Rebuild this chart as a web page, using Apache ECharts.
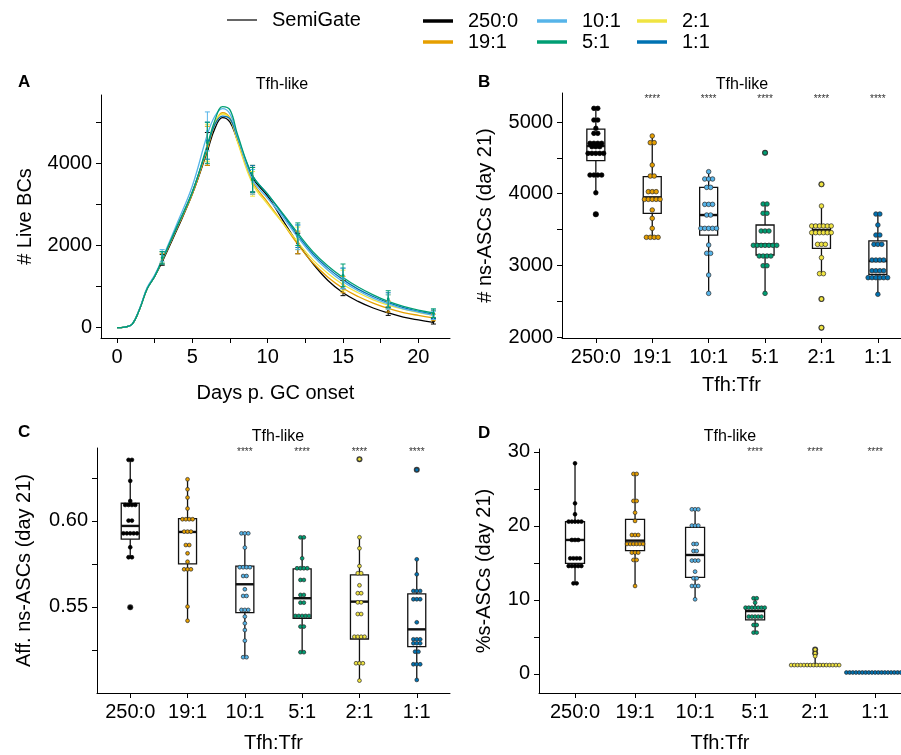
<!DOCTYPE html>
<html><head><meta charset="utf-8">
<script src="https://cdn.jsdelivr.net/npm/echarts@6/dist/echarts.min.js"></script>
<style>html,body{margin:0;padding:0;background:#fff}#c{width:901px;height:755px}</style>
</head><body><div id="c"></div>
<script>
// ---------- data ----------
const categories = ['250:0','19:1','10:1','5:1','2:1','1:1'];
const colors = ['#000000','#E69F00','#56B4E9','#009E73','#F0E442','#0072B2'];

// Panel A: # live BCs over time (SemiGate)
const days = [0,0.5,1,1.5,2,2.5,3,4,5,6,6.5,7,7.5,8,9,10,11,12,13,14,15,16,17,18,19,20,21];
const live250 = [0,15,80,450,950,1250,1600,2400,3250,4300,4850,5110,5000,4550,3650,3200,2620,2050,1560,1150,850,640,480,360,260,190,130];
const live19  = [0,15,80,450,950,1250,1630,2430,3250,4350,4950,5230,5100,4550,3550,3050,2550,2030,1580,1230,960,760,600,470,370,300,240];
const live10  = [0,15,85,470,980,1280,1680,2550,3450,4700,5150,5330,5200,4650,3600,3150,2700,2200,1750,1400,1120,900,720,580,460,380,300];
const live5   = [0,15,80,450,950,1250,1650,2480,3300,4450,5050,5380,5300,4700,3700,3250,2780,2300,1850,1500,1220,990,800,640,520,430,360];
const live2   = [0,15,80,450,950,1250,1650,2460,3300,4400,5000,5200,5080,4520,3500,3000,2550,2080,1650,1320,1050,850,680,550,450,370,310];
const live1   = [0,15,80,450,950,1250,1650,2460,3300,4400,4950,5150,5080,4620,3700,3250,2750,2250,1800,1450,1170,940,760,610,490,400,330];

const ebDays = [3,6,9,12,15,18,21];
const ebLo250 = [1520,3950,3300,1800,780,300,90];   const ebHi250 = [1780,4750,3900,2300,1150,500,220];
const ebLo19  = [1550,3950,3250,1800,850,380,170];  const ebHi19  = [1800,4900,3950,2350,1250,650,330];
const ebLo10  = [1600,4300,3250,1900,950,450,200];  const ebHi10  = [1900,5250,3850,2500,1450,800,400];
const ebLo5   = [1550,4000,3300,2000,1000,500,250]; const ebHi5   = [1850,5000,3900,2550,1550,900,460];
const ebLo2   = [1580,4050,3200,1900,900,450,200];  const ebHi2   = [1850,4950,3800,2450,1400,800,420];
const ebLo1   = [1550,4100,3300,1950,950,480,230];  const ebHi1   = [1850,5000,3950,2500,1450,850,430];

// Panel B: # ns-ASCs (day 21); box = [low whisker, Q1, median, Q3, high whisker]
const boxB = [
  [4013,4460,4665,4902,5191],[3391,3726,3949,4237,4805],[2609,3423,3702,4088,4307],
  [2609,3144,3293,3563,3856],[2884,3238,3493,3563,3828],[2596,2875,3060,3340,3716]];
const outB = [[3712],[],[],[4571],[4130,2530,2130],[]];
const ptsB250 = [5191,5191,5028,5028,4912,4842,4842,4703,4703,4703,4703,4656,4656,4656,4563,4563,4563,4563,4563,4260,4260,4260,4260,4013,3712];
const ptsB19  = [4805,4712,4712,4400,4246,4246,4028,4028,4028,3921,3921,3921,3921,3921,3772,3656,3516,3391,3391,3391,3391];
const ptsB10  = [4307,4205,4205,4205,4088,4088,3851,3851,3851,3702,3702,3516,3516,3516,3516,3516,3284,3168,3168,2865,2609];
const ptsB5   = [4571,3856,3856,3726,3726,3479,3479,3479,3279,3279,3279,3279,3279,3279,3279,3130,3130,3130,3130,2995,2995,2609];
const ptsB2   = [4130,3828,3549,3549,3549,3549,3549,3549,3456,3456,3456,3456,3456,3456,3293,3293,3293,3107,2884,2884,2530,2130];
const ptsB1   = [3716,3716,3563,3423,3423,3293,3293,3293,3074,3074,3074,3074,2925,2925,2925,2925,2828,2828,2828,2828,2828,2828,2596];
const sigB = ['','****','****','****','****','****'];

// Panel C: Aff. ns-ASCs (day 21)
const boxC = [
  [0.5789,0.5894,0.5971,0.6103,0.6355],[0.5420,0.5750,0.5936,0.6014,0.6242],[0.5208,0.5467,0.5632,0.5738,0.5928],
  [0.5237,0.5434,0.5551,0.5721,0.5905],[0.5072,0.5314,0.5531,0.5686,0.5905],[0.5076,0.5270,0.5370,0.5576,0.5777]];
const outC = [[0.5498],[],[],[],[0.6359],[0.6297]];
const ptsC250 = [0.6355,0.6355,0.6233,0.6116,0.6093,0.6093,0.6093,0.6093,0.6002,0.6002,0.5928,0.5928,0.5928,0.5928,0.5928,0.5847,0.5789,0.5789,0.5498];
const ptsC19  = [0.6242,0.6184,0.6136,0.6072,0.6010,0.6010,0.6010,0.6010,0.5938,0.5938,0.5938,0.5860,0.5860,0.5812,0.5763,0.5719,0.5719,0.5719,0.5502,0.5420];
const ptsC10  = [0.5928,0.5928,0.5928,0.5845,0.5731,0.5731,0.5731,0.5731,0.5680,0.5680,0.5603,0.5564,0.5564,0.5483,0.5483,0.5483,0.5444,0.5405,0.5366,0.5304,0.5208,0.5208];
const ptsC5   = [0.5905,0.5905,0.5783,0.5725,0.5725,0.5725,0.5725,0.5657,0.5657,0.5570,0.5570,0.5525,0.5525,0.5448,0.5448,0.5448,0.5448,0.5448,0.5386,0.5386,0.5237,0.5237];
const ptsC2   = [0.6359,0.5905,0.5841,0.5738,0.5696,0.5696,0.5626,0.5580,0.5580,0.5527,0.5527,0.5459,0.5459,0.5327,0.5327,0.5327,0.5327,0.5173,0.5173,0.5173,0.5072];
const ptsC1   = [0.6297,0.5777,0.5690,0.5593,0.5593,0.5593,0.5545,0.5545,0.5545,0.5411,0.5312,0.5312,0.5312,0.5289,0.5289,0.5289,0.5240,0.5240,0.5167,0.5167,0.5167,0.5076];
const sigC = ['','','****','****','****','****'];

// Panel D: %s-ASCs (day 21)
const boxD = [
  [12.25,14.95,18.11,20.59,28.47],[11.89,16.67,18.02,20.90,27.03],[10.09,13.06,16.08,19.82,22.25],
  [5.59,7.30,8.50,9.00,10.23],[1.10,1.15,1.20,1.28,2.40],[0.15,0.18,0.20,0.22,0.25]];
const outD = [[],[],[],[],[3.3,2.8],[]];
const ptsD250 = [28.47,23.06,21.58,20.59,20.59,20.59,20.59,20.59,18.11,18.11,18.11,15.63,15.63,15.63,15.63,14.59,14.59,14.59,14.59,14.59,12.25,12.25];
const ptsD19  = [27.03,27.03,23.38,23.38,21.80,20.68,18.78,18.78,18.78,17.57,17.57,17.57,17.57,17.57,17.57,16.40,16.40,16.40,15.41,15.41,11.89];
const ptsD10  = [22.25,22.25,22.25,20.05,20.05,20.05,17.57,17.57,16.62,16.62,15.32,15.32,15.32,13.83,12.93,12.93,11.89,11.89,11.89,10.09];
const ptsD5   = [10.23,10.23,9.64,8.96,8.96,8.96,8.96,8.96,8.96,8.96,7.75,7.75,7.75,7.75,7.75,6.62,6.62,5.59,5.59];
const ptsD2   = [3.3,2.8,2.4,1.2,1.2,1.2,1.2,1.2,1.2,1.2,1.2,1.2,1.2,1.2,1.2,1.2,1.2,1.2,1.2];
const ptsD1   = [0.2,0.2,0.2,0.2,0.2,0.2,0.2,0.2,0.2,0.2,0.2,0.2,0.2,0.2,0.2,0.2,0.2,0.2,0.2];
const sigD = ['','','','****','****','****'];

// ---------- helpers ----------
const FONT = '"Liberation Sans", Arial, Helvetica, sans-serif';
const liveSeries = [live250, live19, live10, live5, live2, live1];
const ebLo = [ebLo250, ebLo19, ebLo10, ebLo5, ebLo2, ebLo1];
const ebHi = [ebHi250, ebHi19, ebHi10, ebHi5, ebHi2, ebHi1];

function swarm(groups) {
  const out = [];
  groups.forEach((vals, gi) => {
    const counts = {}, seen = {};
    vals.forEach(v => counts[v] = (counts[v] || 0) + 1);
    vals.forEach(v => {
      seen[v] = seen[v] === undefined ? 0 : seen[v] + 1;
      out.push([gi + 1, v, seen[v] - (counts[v] - 1) / 2, gi]);
    });
  });
  return out;
}
function boxData(boxes) { return boxes.map((b, i) => [i + 1].concat(b)); }
function outData(outs) { const r = []; outs.forEach((o, i) => o.forEach(v => r.push([i + 1, v]))); return r; }
function sigData(sig, level) { const r = []; sig.forEach((s, i) => { if (s) r.push([i + 1, level, s]); }); return r; }

function boxSeries(idx, boxes, halfW) {
  return {
    type: 'custom', xAxisIndex: idx, yAxisIndex: idx, z: 2, silent: true,
    data: boxData(boxes),
    renderItem: function (params, api) {
      const x = api.value(0);
      const pLo = api.coord([x, api.value(1)]), pQ1 = api.coord([x, api.value(2)]);
      const pMd = api.coord([x, api.value(3)]), pQ3 = api.coord([x, api.value(4)]);
      const pHi = api.coord([x, api.value(5)]);
      const cx = pLo[0];
      return { type: 'group', children: [
        { type: 'line', shape: { x1: cx, y1: pLo[1], x2: cx, y2: pHi[1] }, style: { stroke: '#111', lineWidth: 1.3 } },
        { type: 'rect', shape: { x: cx - halfW, y: pQ3[1], width: 2 * halfW, height: Math.max(pQ1[1] - pQ3[1], 0.5) },
          style: { fill: '#fff', stroke: '#111', lineWidth: 1.3 } },
        { type: 'line', shape: { x1: cx - halfW, y1: pMd[1], x2: cx + halfW, y2: pMd[1] }, style: { stroke: '#111', lineWidth: 2.4 } }
      ]};
    }
  };
}
function outlierSeries(idx, outs) {
  return { type: 'scatter', xAxisIndex: idx, yAxisIndex: idx, z: 3, silent: true,
    symbol: 'circle', symbolSize: 6, itemStyle: { color: '#111' }, data: outData(outs) };
}
function dotSeries(idx, groups, r, spacing) {
  return {
    type: 'custom', xAxisIndex: idx, yAxisIndex: idx, z: 4, silent: true,
    data: swarm(groups),
    renderItem: function (params, api) {
      const p = api.coord([api.value(0), api.value(1)]);
      const ci = api.value(3);
      return { type: 'circle', shape: { cx: p[0] + api.value(2) * spacing, cy: p[1], r: r },
        style: { fill: colors[ci], stroke: ci === 0 ? '#000' : '#2a2a2a', lineWidth: 0.7 } };
    }
  };
}
function sigSeries(idx, sig, level) {
  return {
    type: 'custom', xAxisIndex: idx, yAxisIndex: idx, z: 5, silent: true,
    data: sigData(sig, level),
    renderItem: function (params, api) {
      const p = api.coord([api.value(0), api.value(1)]);
      return { type: 'text', style: { text: '****', x: p[0], y: p[1], fill: '#333',
        font: '10px ' + FONT, textAlign: 'center', textVerticalAlign: 'middle', align: 'center', verticalAlign: 'middle' } };
    }
  };
}

const plain = v => String(Math.round(v));
const axisCommon = {
  type: 'value', scale: false,
  axisLine: { show: true, onZero: false, lineStyle: { color: '#000', width: 1 } },
  splitLine: { show: false },
  axisTick: { show: true, length: 5, lineStyle: { color: '#000', width: 1 } },
  axisLabel: { fontSize: 20, color: '#000', fontFamily: FONT, margin: 9 },
  nameTextStyle: { fontSize: 20, color: '#000', fontFamily: FONT },
  nameLocation: 'middle'
};
function ax(extra) { return echarts.util.merge(echarts.util.clone(axisCommon), extra, true); }
function catX(idx, min, max, nameGap) {
  return ax({ gridIndex: idx, min: min, max: max, name: 'Tfh:Tfr', nameGap: nameGap,
    axisTick: { customValues: [1,2,3,4,5,6] },
    axisLabel: { customValues: [1,2,3,4,5,6], formatter: v => categories[Math.round(v) - 1] || '' } });
}

// ---------- option ----------
const series = [];
series.push({ name: 'SemiGate', type: 'line', xAxisIndex: 0, yAxisIndex: 0, data: [], symbol: 'none',
  lineStyle: { color: '#000', width: 1 }, itemStyle: { color: '#000' } });
const drawOrder = [0, 1, 4, 5, 2, 3];
drawOrder.forEach(k => {
  series.push({ name: categories[k], type: 'line', xAxisIndex: 0, yAxisIndex: 0, symbol: 'none', smooth: 0.4,
    data: days.map((d, i) => [d, liveSeries[k][i]]), z: 3,
    lineStyle: { color: colors[k], width: 1.3 }, itemStyle: { color: colors[k] } });
});
drawOrder.forEach(k => {
  series.push({ type: 'custom', xAxisIndex: 0, yAxisIndex: 0, z: 4, silent: true,
    data: ebDays.map((d, i) => [d, ebLo[k][i], ebHi[k][i]]),
    renderItem: function (params, api) {
      const x = api.value(0);
      const a = api.coord([x, api.value(1)]), b = api.coord([x, api.value(2)]);
      const st = { stroke: colors[k], lineWidth: 1 };
      return { type: 'group', children: [
        { type: 'line', shape: { x1: a[0], y1: a[1], x2: b[0], y2: b[1] }, style: st },
        { type: 'line', shape: { x1: a[0] - 2.5, y1: a[1], x2: a[0] + 2.5, y2: a[1] }, style: st },
        { type: 'line', shape: { x1: b[0] - 2.5, y1: b[1], x2: b[0] + 2.5, y2: b[1] }, style: st },
        { type: 'circle', shape: { cx: a[0], cy: (a[1] + b[1]) / 2, r: 1.4 }, style: { fill: colors[k] } }
      ]};
    } });
});
// B
series.push(boxSeries(1, boxB, 9), outlierSeries(1, outB),
  dotSeries(1, [ptsB250, ptsB19, ptsB10, ptsB5, ptsB2, ptsB1], 2.3, 3.9), sigSeries(1, sigB, 5321));
// C
series.push(boxSeries(2, boxC, 9), outlierSeries(2, outC),
  dotSeries(2, [ptsC250, ptsC19, ptsC10, ptsC5, ptsC2, ptsC1], 1.9, 3.4), sigSeries(2, sigC, 0.6400));
// D
series.push(boxSeries(3, boxD, 9.5), outlierSeries(3, outD),
  dotSeries(3, [ptsD250, ptsD19, ptsD10, ptsD5, ptsD2, ptsD1], 1.9, 3.2), sigSeries(3, sigD, 30.0));

const titleStyle = { fontSize: 16, fontWeight: 'normal', color: '#000', fontFamily: FONT };
const letterStyle = { fontSize: 17, fontWeight: 'bold', color: '#000', fontFamily: FONT };
const legendBase = { orient: 'vertical', padding: 0, itemGap: 1, itemWidth: 30, itemHeight: 3.5, icon: 'rect',
  selectedMode: false, textStyle: { fontSize: 20, color: '#000', fontFamily: FONT, padding: [0, 0, 0, 10], lineHeight: 20 } };

const option = {
  animation: false,
  backgroundColor: '#fff',
  title: [
    { text: 'A', left: 13, top: 69, textStyle: letterStyle },
    { text: 'B', left: 473, top: 69, textStyle: letterStyle },
    { text: 'C', left: 13, top: 419, textStyle: letterStyle },
    { text: 'D', left: 473, top: 420, textStyle: letterStyle },
    { text: 'Tfh-like', left: 277, top: 72, textAlign: 'center', textStyle: titleStyle },
    { text: 'Tfh-like', left: 737, top: 72, textAlign: 'center', textStyle: titleStyle },
    { text: 'Tfh-like', left: 273, top: 424, textAlign: 'center', textStyle: titleStyle },
    { text: 'Tfh-like', left: 725, top: 424, textAlign: 'center', textStyle: titleStyle }
  ],
  legend: [
    Object.assign({}, legendBase, { left: 227, top: 10, itemHeight: 1.2, data: ['SemiGate'] }),
    Object.assign({}, legendBase, { left: 423, top: 11, data: ['250:0', '19:1'] }),
    Object.assign({}, legendBase, { left: 537, top: 11, data: ['10:1', '5:1'] }),
    Object.assign({}, legendBase, { left: 637, top: 11, data: ['2:1', '1:1'] })
  ],
  grid: [
    { left: 101, top: 95, width: 349, height: 243 },
    { left: 562, top: 93, width: 339, height: 245 },
    { left: 97, top: 448, width: 353, height: 245 },
    { left: 539, top: 449, width: 362, height: 244 }
  ],
  xAxis: [
    ax({ gridIndex: 0, min: -1.06, max: 22.1, name: 'Days p. GC onset', nameGap: 45,
      axisTick: { customValues: [0,2.5,5,7.5,10,12.5,15,17.5,20] },
      axisLabel: { customValues: [0,5,10,15,20], formatter: plain } }),
    catX(1, 0.4, 6.41, 37),
    catX(2, 0.42, 6.58, 40),
    catX(3, 0.4, 6.43, 40)
  ],
  yAxis: [
    ax({ gridIndex: 0, min: -250, max: 5662, name: '# Live BCs', nameGap: 66,
      axisTick: { customValues: [0,1000,2000,3000,4000,5000] },
      axisLabel: { customValues: [0,2000,4000], formatter: plain } }),
    ax({ gridIndex: 1, min: 1986, max: 5405, name: '# ns-ASCs (day 21)', nameGap: 67,
      axisTick: { customValues: [2000,2500,3000,3500,4000,4500,5000] },
      axisLabel: { customValues: [2000,3000,4000,5000], formatter: plain } }),
    ax({ gridIndex: 2, min: 0.5, max: 0.6424, name: 'Aff. ns-ASCs (day 21)', nameGap: 63,
      axisTick: { customValues: [0.525,0.55,0.575,0.6,0.625] },
      axisLabel: { customValues: [0.55,0.6], formatter: v => v.toFixed(2) } }),
    ax({ gridIndex: 3, min: -2.57, max: 30.4, name: '%s-ASCs (day 21)', nameGap: 45,
      axisTick: { customValues: [0,5,10,15,20,25,30] },
      axisLabel: { customValues: [0,10,20,30], formatter: plain } })
  ],
  series: series
};
const chart = echarts.init(document.getElementById('c'), null, { renderer: 'canvas' });
chart.setOption(option);
</script></body></html>
